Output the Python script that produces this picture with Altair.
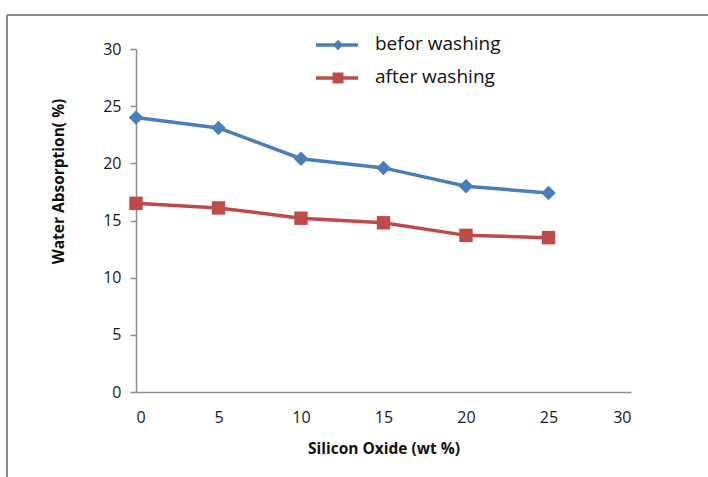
import altair as alt
import pandas as pd

# Silicon oxide content (wt %) and measured water absorption (%)
silicon_oxide = [0, 5, 10, 15, 20, 25]
before_washing = [24.0, 23.1, 20.4, 19.6, 18.0, 17.4]
after_washing = [16.5, 16.1, 15.2, 14.8, 13.7, 13.5]
series_names = ["befor washing", "after washing"]
series_colors = ["#4A7EBB", "#BE4B48"]
series_shapes = ["diamond", "square"]
x_ticks = [0, 5, 10, 15, 20, 25, 30]
y_ticks = [0, 5, 10, 15, 20, 25, 30]

df = pd.DataFrame({
    "x": silicon_oxide * 2,
    "y": before_washing + after_washing,
    "series": [series_names[0]] * 6 + [series_names[1]] * 6,
})

FONT = "Open Sans"
W, H = 495, 343

x_enc = alt.X(
    "x:Q",
    scale=alt.Scale(domain=[0, 30], nice=False, zero=True),
    axis=alt.Axis(
        values=x_ticks, title="Silicon  Oxide (wt %)", ticks=False, grid=False,
        domainColor="#8c8c8c", domainWidth=1.5, labelPadding=17,
        labelFontSize=16, labelFont=FONT, labelColor="#1a1a1a",
        titleFont=FONT, titleFontSize=15.5, titleFontWeight="bold",
        titleColor="#111", titleY=56, titleBaseline="middle",
    ),
)
y_enc = alt.Y(
    "y:Q",
    scale=alt.Scale(domain=[0, 30], nice=False),
    axis=alt.Axis(
        values=y_ticks, title="Water Absorption( %)", grid=False,
        domainColor="#8c8c8c", domainWidth=1.5, tickColor="#8c8c8c",
        tickSize=6, tickWidth=1.5, labelPadding=9,
        labelFontSize=16, labelFont=FONT, labelColor="#1a1a1a",
        titleFont=FONT, titleFontSize=15.5, titleFontWeight="bold",
        titleColor="#111", titleX=-78, titleY=132, titleAngle=-90,
        titleAlign="center", titleBaseline="middle",
    ),
)
color_scale = alt.Scale(domain=series_names, range=series_colors)
shape_scale = alt.Scale(domain=series_names, range=series_shapes)

lines = alt.Chart(df).mark_line(strokeWidth=3.5).encode(
    x=x_enc, y=y_enc,
    color=alt.Color("series:N", scale=color_scale, legend=None),
)
points = alt.Chart(df).mark_point(filled=True, opacity=1).encode(
    x="x:Q", y="y:Q",
    color=alt.Color("series:N", scale=color_scale, legend=None),
    shape=alt.Shape("series:N", scale=shape_scale, legend=None),
    size=alt.Size("series:N", scale=alt.Scale(domain=series_names, range=[210, 180]), legend=None),
)

# Hand-placed legend: a line segment with a marker, followed by the label
leg = pd.DataFrame({"series": series_names})
legend_layers = []
for i, name in enumerate(series_names):
    row = leg[leg.series == name]
    ly = -4 + i * 33
    legend_layers.append(
        alt.Chart(row).mark_rule(strokeWidth=3.5, color=series_colors[i]).encode(
            x=alt.value(180), x2=alt.value(222), y=alt.value(ly)
        )
    )
    legend_layers.append(
        alt.Chart(row).mark_point(filled=True, opacity=1, color=series_colors[i],
                                  shape=series_shapes[i], size=[110, 120][i]).encode(
            x=alt.value(202), y=alt.value(ly)
        )
    )
    legend_layers.append(
        alt.Chart(row).mark_text(align="left", baseline="middle", font=FONT,
                                 fontSize=19, color="#111").encode(
            x=alt.value(239), y=alt.value(ly - 1), text="series:N"
        )
    )

# Outer chart border (top and left edges)
frame = pd.DataFrame({"k": [0]})
border_top = alt.Chart(frame).mark_rule(color="#8a8a8a", strokeWidth=2).encode(
    x=alt.value(-129), x2=alt.value(600), y=alt.value(-34)
)
border_left = alt.Chart(frame).mark_rule(color="#8a8a8a", strokeWidth=2).encode(
    x=alt.value(-129), y=alt.value(-34), y2=alt.value(440)
)

chart = alt.layer(
    border_top, border_left, lines, points, *legend_layers
).properties(
    width=W, height=H,
    background="white",
    autosize=alt.AutoSizeParams(type="none"),
    padding={"left": 136, "top": 49, "right": 77, "bottom": 85},
).configure_view(strokeWidth=0)

chart.save("out.html", embed_options={"renderer": "svg", "actions": False})
